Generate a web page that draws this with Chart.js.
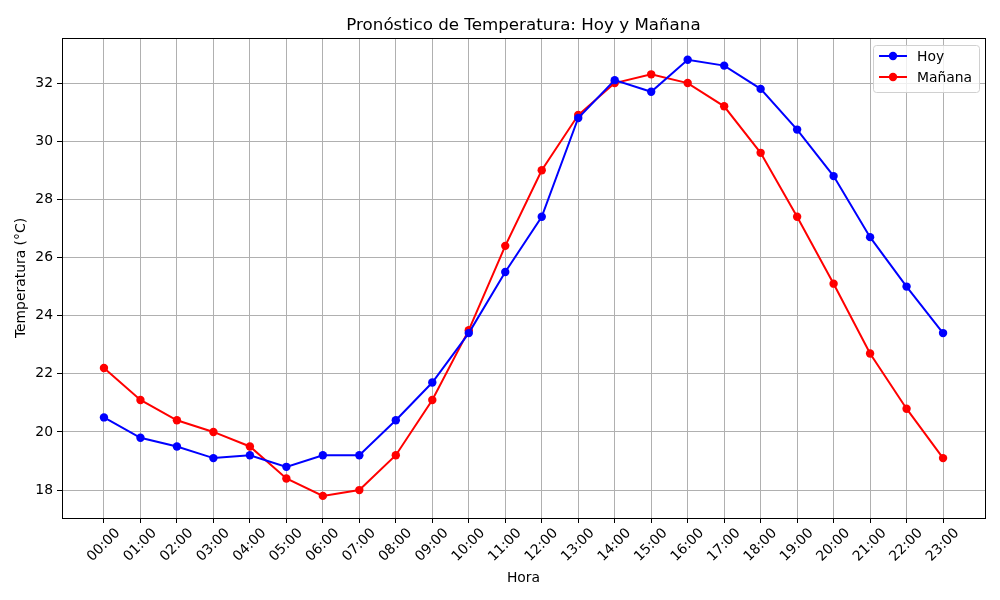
<!DOCTYPE html>
<html>
<head>
<meta charset="utf-8">
<script src="https://cdn.jsdelivr.net/npm/chart.js@4"></script>
<style>
  html, body { margin: 0; padding: 0; background: #fff; }
  #wrap { width: 1000px; height: 600px; }
</style>
</head>
<body>
<div id="wrap"><canvas id="chart" width="1000" height="600"></canvas></div>
<script>
// Data
const horas = ['00:00','01:00','02:00','03:00','04:00','05:00','06:00','07:00','08:00','09:00','10:00','11:00',
               '12:00','13:00','14:00','15:00','16:00','17:00','18:00','19:00','20:00','21:00','22:00','23:00'];
const hoy = [20.5, 19.8, 19.5, 19.1, 19.2, 18.8, 19.2, 19.2, 20.4, 21.7, 23.4, 25.5,
             27.4, 30.8, 32.1, 31.7, 32.8, 32.6, 31.8, 30.4, 28.8, 26.7, 25.0, 23.4];
const manana = [22.2, 21.1, 20.4, 20.0, 19.5, 18.4, 17.8, 18.0, 19.2, 21.1, 23.5, 26.4,
                29.0, 30.9, 32.0, 32.3, 32.0, 31.2, 29.6, 27.4, 25.1, 22.7, 20.8, 19.1];
const yTicks = [18, 20, 22, 24, 26, 28, 30, 32];

const FONT = 'DejaVu Sans';

function toPoints(arr) {
    return arr.map((v, i) => ({ x: i, y: v }));
}

// Box, title and legend in matplotlib style
const frame = {
    id: 'frame',
    afterDraw(chart) {
        const ctx = chart.ctx;
        const a = chart.chartArea;
        ctx.save();
        ctx.strokeStyle = '#000';
        ctx.lineWidth = 1;
        ctx.strokeRect(Math.round(a.left) + 0.5, Math.round(a.top) + 0.5,
                       Math.round(a.right - a.left), Math.round(a.bottom - a.top));

        // title
        ctx.fillStyle = '#000';
        ctx.font = '16.7px ' + FONT;
        ctx.textAlign = 'center';
        ctx.textBaseline = 'middle';
        ctx.fillText('Pronóstico de Temperatura: Hoy y Mañana', (a.left + a.right) / 2, 26);

        // legend
        const bx = 873, by = 45, bw = 106, bh = 47;
        ctx.fillStyle = 'rgba(255,255,255,0.8)';
        ctx.strokeStyle = '#d0d0d0';
        ctx.beginPath();
        ctx.roundRect(bx + 0.5, by + 0.5, bw, bh, 3);
        ctx.fill();
        ctx.stroke();
        ctx.font = '13.9px ' + FONT;
        ctx.textAlign = 'left';
        chart.data.datasets.forEach((ds, i) => {
            const y = by + 11 + i * 21;
            ctx.strokeStyle = ds.borderColor;
            ctx.lineWidth = 2;
            ctx.beginPath();
            ctx.moveTo(bx + 6, y);
            ctx.lineTo(bx + 34, y);
            ctx.stroke();
            ctx.fillStyle = ds.borderColor;
            ctx.beginPath();
            ctx.arc(bx + 20, y, 4.2, 0, Math.PI * 2);
            ctx.fill();
            ctx.fillStyle = '#000';
            ctx.fillText(ds.label, bx + 44, y + 1);
        });
        ctx.restore();
    }
};

new Chart(document.getElementById('chart'), {
    type: 'line',
    data: {
        datasets: [
            {
                label: 'Hoy',
                data: toPoints(hoy),
                borderColor: '#0000ff',
                backgroundColor: '#0000ff',
                borderWidth: 2,
                pointRadius: 4.2,
                pointBorderWidth: 0,
                tension: 0
            },
            {
                label: 'Mañana',
                data: toPoints(manana),
                borderColor: '#ff0000',
                backgroundColor: '#ff0000',
                borderWidth: 2,
                pointRadius: 4.2,
                pointBorderWidth: 0,
                tension: 0
            }
        ]
    },
    options: {
        responsive: false,
        animation: false,
        layout: { padding: { top: 38, right: 15, bottom: 0, left: 0 } },
        plugins: {
            legend: { display: false },
            title: { display: false },
            tooltip: { enabled: false }
        },
        scales: {
            x: {
                type: 'linear',
                min: -1.15,
                max: 24.15,
                afterBuildTicks(scale) {
                    scale.ticks = horas.map((h, i) => ({ value: i }));
                },
                afterFit(scale) { scale.height = 82; },
                ticks: {
                    color: '#000',
                    font: { family: FONT, size: 13.9 },
                    minRotation: 45,
                    maxRotation: 45,
                    autoSkip: false,
                    padding: 2,
                    labelOffset: 14,
                    callback: (v) => horas[v]
                },
                grid: { color: '#b0b0b0', tickColor: '#000', tickLength: 5, lineWidth: 1 },
                border: { color: '#000' },
                title: {
                    display: true,
                    text: 'Hora',
                    color: '#000',
                    font: { family: FONT, size: 13.9 },
                    padding: { top: 0, bottom: 13 }
                }
            },
            y: {
                min: 17.04,
                max: 33.55,
                afterBuildTicks(scale) {
                    scale.ticks = yTicks.map(v => ({ value: v }));
                },
                afterFit(scale) { scale.width = 62; },
                ticks: {
                    color: '#000',
                    font: { family: FONT, size: 13.9 },
                    padding: 4
                },
                grid: { color: '#b0b0b0', tickColor: '#000', tickLength: 5, lineWidth: 1 },
                border: { color: '#000' },
                title: {
                    display: true,
                    text: 'Temperatura (°C)',
                    color: '#000',
                    font: { family: FONT, size: 13.9 },
                    padding: { top: 13, bottom: 0 }
                }
            }
        }
    },
    plugins: [frame]
});
</script>
</body>
</html>
